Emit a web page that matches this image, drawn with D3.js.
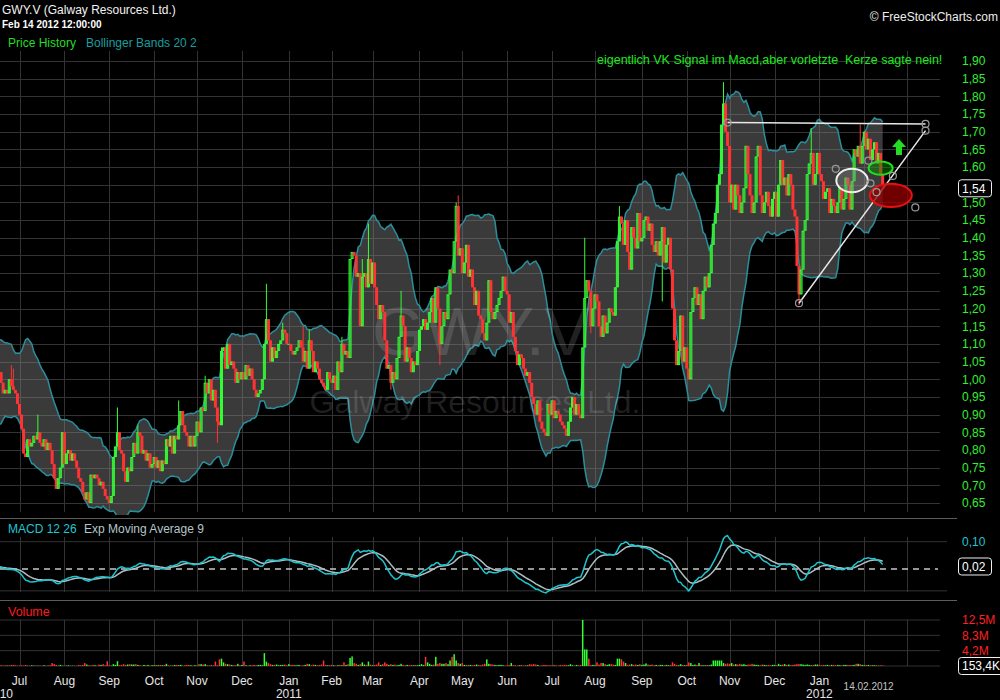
<!DOCTYPE html>
<html><head><meta charset="utf-8">
<script src="https://cdn.jsdelivr.net/npm/d3@7"></script>
<style>html,body{margin:0;padding:0;background:#000;}svg{display:block;}</style>
</head><body>
<svg id="c" width="1000" height="700"></svg>
<script>
// ================= DATA =================
const titleText = "GWY.V (Galway Resources Ltd.)";
const stampText = "Feb 14 2012 12:00:00";
const watermarkSymbol = "GWY.V";
const watermarkName = "Galway Resources Ltd.";
const noteText = "eigentlich VK Signal im Macd,aber vorletzte  Kerze sagte nein!";
const firstCloseDate = "2010-05-12";   // first daily close (warm-up for indicators, off screen)
const lastDateText = "14.02.2012";
// daily closing prices, oldest first (last = 14.02.2012)
const closes = [
0.97,1.01,1.07,1.04,1.08,1.00,0.94,0.96,0.89,0.91,
0.99,1.03,1.01,1.09,1.06,0.98,1.02,0.93,0.88,0.92,
0.97,1.05,1.03,1.08,1.02,0.99,1.02,0.99,0.96,0.97,
0.96,1.00,0.98,0.97,0.96,0.93,0.90,0.86,0.79,0.78,
0.83,0.81,0.82,0.84,0.83,0.85,0.82,0.81,0.83,0.80,
0.82,0.80,0.76,0.72,0.69,0.72,0.75,0.85,0.76,0.79,
0.80,0.77,0.79,0.77,0.75,0.72,0.71,0.68,0.66,0.68,
0.65,0.73,0.72,0.73,0.72,0.70,0.71,0.69,0.67,0.66,
0.65,0.67,0.78,0.81,0.85,0.80,0.79,0.74,0.71,0.75,
0.74,0.78,0.82,0.79,0.85,0.84,0.79,0.80,0.77,0.79,
0.75,0.76,0.78,0.75,0.77,0.74,0.77,0.76,0.83,0.81,
0.84,0.79,0.84,0.83,0.87,0.91,0.87,0.85,0.84,0.81,
0.84,0.81,0.84,0.88,0.85,0.92,0.91,0.99,0.96,1.00,
0.94,0.97,0.92,0.88,0.87,1.08,1.09,1.03,1.10,1.04,
1.05,1.03,0.99,1.02,1.00,1.02,1.00,1.04,1.01,1.03,
1.00,0.97,0.95,0.96,0.97,1.00,1.10,1.17,1.11,1.05,
1.09,1.06,1.08,1.10,1.11,1.14,1.13,1.10,1.10,1.08,
1.07,1.08,1.09,1.11,1.09,1.05,1.08,1.03,1.11,1.08,
1.02,1.05,1.03,1.00,0.99,0.98,0.97,1.02,1.00,0.99,
1.01,0.97,1.05,1.02,1.10,1.07,1.08,1.06,1.34,1.36,
1.35,1.29,1.30,1.15,1.29,1.30,1.26,1.34,1.27,1.33,
1.26,1.21,1.17,1.21,1.19,1.11,1.03,1.04,0.99,1.02,
1.00,1.06,1.12,1.18,1.15,1.05,1.09,1.06,1.02,1.05,
1.04,1.08,1.14,1.15,1.17,1.14,1.16,1.19,1.23,1.16,
1.26,1.20,1.10,1.15,1.19,1.17,1.24,1.31,1.30,1.39,
1.49,1.35,1.37,1.30,1.33,1.38,1.29,1.31,1.26,1.21,
1.25,1.18,1.17,1.13,1.11,1.16,1.28,1.19,1.17,1.19,
1.21,1.23,1.25,1.29,1.25,1.24,1.16,1.19,1.12,1.08,
1.04,1.07,1.06,1.03,1.01,1.02,0.99,0.95,0.93,0.90,
0.94,0.88,0.86,0.85,0.84,0.93,0.90,0.94,0.89,0.91,
0.90,0.88,0.87,0.86,0.84,0.88,0.92,0.95,0.90,0.93,
0.90,0.89,1.09,1.23,1.28,1.25,1.15,1.20,1.24,1.22,
1.15,1.12,1.18,1.13,1.16,1.20,1.19,1.18,1.26,1.39,
1.46,1.44,1.38,1.45,1.36,1.31,1.43,1.40,1.37,1.47,
1.39,1.40,1.45,1.46,1.42,1.44,1.38,1.36,1.39,1.35,
1.39,1.43,1.33,1.38,1.40,1.31,1.20,1.11,1.04,1.08,
1.18,1.05,1.09,1.03,1.00,1.19,1.23,1.26,1.21,1.24,
1.17,1.25,1.29,1.26,1.30,1.38,1.44,1.47,1.55,1.58,
1.72,1.78,1.70,1.66,1.50,1.55,1.48,1.55,1.52,1.47,
1.50,1.54,1.66,1.58,1.52,1.47,1.50,1.63,1.66,1.52,
1.47,1.50,1.53,1.49,1.46,1.51,1.53,1.46,1.55,1.62,
1.55,1.57,1.52,1.58,1.55,1.48,1.46,1.32,1.24,1.31,
1.42,1.45,1.58,1.61,1.64,1.55,1.58,1.64,1.58,1.56,
1.51,1.53,1.54,1.47,1.51,1.49,1.47,1.50,1.54,1.48,
1.51,1.57,1.55,1.48,1.56,1.65,1.63,1.66,1.61,1.66,
1.70,1.65,1.68,1.62,1.65,1.67,1.61,1.64,1.58,1.54
];
// notable shadows: [session number in closes, high, low]
const wicks = [
[32,1.04,null],[33,1.03,null],[45,0.90,null],[84,0.92,null],[94,0.87,null],[114,0.94,null],
[127,1.01,null],[133,null,0.82],[135,1.09,null],[157,1.27,null],[165,1.16,null],[175,1.15,null],
[178,1.14,null],[194,1.12,null],[204,1.34,null],[207,1.44,null],[218,null,0.97],[223,1.25,null],
[242,null,1.04],[250,1.50,null],[251,1.52,null],[313,1.40,null],[316,null,1.13],[330,1.49,null],
[351,null,1.22],[381,1.84,null],[418,null,1.21],[424,1.71,null],[448,1.72,null]
];
// daily volume in units of 100K shares (aligned to the last closes)
const volumes = [
3,2,1,1,2,1,3,3,2,1,
1,2,1,3,1,1,2,1,1,1, 1,1,2,1,1,2,8,5,3,1, 3,1,1,1,2,1,1,1,1,3, 2,3,8,4,2,1,3,2,1,4,
3,5,2,13,2,1,5,3,13,2, 3,5,3,4,5,4,4,5,3,2, 1,3,2,3,1,2,2,3,2,3, 2,3,6,2,1,2,3,3,2,3,
1,2,3,3,2,1,2,1,5,5, 4,5,2,1,3,1,12,2,18,20, 10,6,5,4,3,2,2,6,2,3, 12,2,1,2,2,3,2,3,3,2,
35,12,8,5,3,3,4,2,3,3, 4,2,5,3,3,2,2,3,1,2, 3,6,5,2,4,3,2,3,4,15, 3,2,2,3,2,1,2,3,2,10,
3,5,22,26,8,6,3,5,10,4, 3,12,4,2,3,4,10,3,5,10, 6,3,5,3,4,2,3,6,3,2, 3,2,3,2,3,2,3,5,3,25,
10,6,3,4,25,6,8,6,6,8, 5,15,25,32,15,8,6,8,3,2, 3,3,2,3,4,3,2,4,6,18, 6,5,4,3,2,3,3,2,1,2,
3,8,2,2,1,2,3,1,2,2, 5,4,5,4,3,1,2,3,3,1, 2,1,3,1,1,3,2,3,3,2, 5,2,1,3,2,3,125,45,45,20,
3,3,2,10,4,8,8,5,3,5, 5,4,3,20,20,18,12,8,3,4, 5,3,4,3,5,3,4,7,4,2, 4,2,3,2,3,3,2,3,2,3,
10,6,3,2,5,3,2,3,10,8, 3,4,3,8,3,2,2,3,2,4, 15,15,15,15,15,8,6,7,6,8, 4,5,4,6,4,5,3,4,4,6,
4,3,3,2,4,3,2,3,2,3, 3,2,6,3,4,5,3,4,2,3, 4,5,5,5,4,3,4,3,2,3, 4,4,3,2,3,2,3,2,3,3,
2,3,2,2,3,3,3,3,2,3, 6,6,5,3,2,3,3,2,2,2, 2,1,2,1.534
];
const priceTicks = d3.range(26).map(k => 0.65 + k*0.05);
const macdTicks = [0.10];
const macdGrid = [0.10, -0.08];
const bandPeriod = 20, bandWidth = 2;
const macdFast = 12, macdSlow = 26, macdSignal = 9;
// hand-drawn chart annotations in [date, price]
const annLines = [
  [["2011-10-31",1.726],["2012-03-14",1.722]],
  [["2011-12-19",1.215],["2012-03-14",1.703]]
];
const annEllipses = [
  {date:"2012-01-24", price:1.562, rxDays:7.7, ryPrice:0.033, kind:"white"},
  {date:"2012-02-13", price:1.597, rxDays:5.9, ryPrice:0.019, kind:"green"},
  {date:"2012-02-20", price:1.520, rxDays:10.3, ryPrice:0.033, kind:"red"}
];
const annHandles = [["2012-01-12",1.595],["2012-02-03",1.618],["2012-02-06",1.554],
  ["2012-02-09",1.529],["2012-02-21",1.575],["2012-03-07",1.486]];
const annArrow = ["2012-02-24",1.657];

// ================= SETUP =================
const FONT = "'Liberation Sans', Arial, sans-serif";
const GREEN = "#33ff33", RED = "#ff3333";
const parse = d3.utcParse("%Y-%m-%d");
const cal = d3.utcDay.range(parse("2010-04-01"), parse("2012-06-01")).filter(d => d.getUTCDay() % 6 !== 0);
const bis = d3.bisector(d => +d).left;
const idxOf = s => bis(cal, +(typeof s === "string" ? parse(s) : s));
const startK = idxOf(firstCloseDate);

const data = closes.map((c, k) => {
  const open = k ? closes[k-1] : c;
  return {k, idx: startK + k, date: cal[startK + k], open, close: c,
          high: Math.max(open, c), low: Math.min(open, c)};
});
wicks.forEach(([k, hi, lo]) => { if (hi != null) data[k].high = Math.max(data[k].high, hi); if (lo != null) data[k].low = Math.min(data[k].low, lo); });
const volOffset = closes.length - volumes.length;
volumes.forEach((v, j) => { data[volOffset + j].vol = v; });

// Bollinger
data.forEach((d, k) => {
  if (k >= bandPeriod - 1) {
    const w = closes.slice(k - bandPeriod + 1, k + 1);
    const m = d3.mean(w);
    const sd = Math.sqrt(d3.mean(w, v => (v - m) * (v - m)));
    d.mid = m; d.up = m + bandWidth * sd; d.lo = m - bandWidth * sd;
  }
});
// MACD
function ema(arr, n) { const a = 2/(n+1); let e = arr[0]; return arr.map(v => (e = a*v + (1-a)*e)); }
const eF = ema(closes, macdFast), eS = ema(closes, macdSlow);
const macd = closes.map((c, k) => eF[k] - eS[k]);
const sig = ema(macd, macdSignal);
data.forEach((d, k) => { d.macd = macd[k]; d.sig = sig[k]; });

// scales
const x = d3.scaleLinear().domain([idxOf("2010-07-01"), idxOf("2012-02-01")]).range([19.5, 864.3]);
const y = d3.scaleLinear().domain([0.65, 1.90]).range([503, 61]);
const yM = d3.scaleLinear().domain([0, 0.10]).range([569, 541.7]);
const yV = d3.scaleLinear().domain([0, d3.max(volumes)]).range([666, 620]);
const PR = 940;

const svg = d3.select("#c");
svg.append("rect").attr("width",1000).attr("height",700).attr("fill","#000");
const defs = svg.append("defs");
[["cp",0,51,PR,464],["cm",0,519,950,81],["cv",0,601,PR,67]].forEach(([id,x0,y0,w,h]) =>
  defs.append("clipPath").attr("id",id).append("rect").attr("x",x0).attr("y",y0).attr("width",w).attr("height",h));

const comma = f => v => f(v).replace(".", ",");
const fmt2 = comma(d3.format(".2f"));

// ---------- grid ----------
const grid = svg.append("g").attr("stroke","#333").attr("stroke-width",1);
grid.selectAll("line.h").data(priceTicks).join("line")
  .attr("x1",0).attr("x2",PR).attr("y1",d=>Math.round(y(d))+0.5).attr("y2",d=>Math.round(y(d))+0.5);
grid.selectAll("line.m").data(macdGrid).join("line").attr("class","m")
  .attr("x1",0).attr("x2",947).attr("y1",d=>yM(d)).attr("y2",d=>yM(d));
const volTickVals = [0,1,2,3].map(t => yV.domain()[1]*t/3);
grid.selectAll("line.v").data(volTickVals).join("line").attr("class","v")
  .attr("x1",0).attr("x2",PR).attr("y1",d=>yV(d)).attr("y2",d=>yV(d));
const months = d3.utcMonth.range(parse("2010-06-01"), parse("2012-05-01"))
  .map(m => ({m, xi: x(idxOf(m))})).filter(o => o.xi >= 0 && o.xi <= PR);
[[51,512],[537,592],[620,666]].forEach(([a,b]) =>
  grid.append("g").selectAll("line").data(months).join("line")
   .attr("x1",d=>Math.round(d.xi)+0.5).attr("x2",d=>Math.round(d.xi)+0.5).attr("y1",a).attr("y2",b));

// panel separators
svg.append("g").attr("stroke","#5c5c5c").selectAll("line").data([518.5,600.5]).join("line")
  .attr("x1",0).attr("x2",957).attr("y1",d=>d).attr("y2",d=>d);

// ---------- price panel ----------
const gp = svg.append("g").attr("clip-path","url(#cp)");
const bd = data.filter(d => d.up != null);
gp.append("path").datum(bd)
  .attr("d", d3.area().x(d=>x(d.idx)).y0(d=>y(d.lo)).y1(d=>y(d.up)))
  .attr("fill","#808080").attr("fill-opacity",0.45);
["up","lo"].forEach(key => gp.append("path").datum(bd)
  .attr("d", d3.line().x(d=>x(d.idx)).y(d=>y(d[key])))
  .attr("fill","none").attr("stroke","#2a8f9c").attr("stroke-width",1.5));

// watermark
gp.append("text").attr("x",481).attr("y",355).attr("text-anchor","middle")
  .attr("font-family",FONT).attr("font-size",68).attr("fill","#fff").attr("fill-opacity",0.13).text(watermarkSymbol);
gp.append("text").attr("x",475).attr("y",413).attr("text-anchor","middle")
  .attr("font-family",FONT).attr("font-size",32).attr("fill","#fff").attr("fill-opacity",0.13).text(watermarkName);

// candles
const vis = data.filter(d => x(d.idx) > -4 && x(d.idx) < PR + 4);
gp.append("g").selectAll("g").data(vis).join("g")
  .attr("transform", d => `translate(${x(d.idx)},0)`)
  .each(function(d){
    const g = d3.select(this), up = d.close >= d.open, col = up ? GREEN : RED;
    g.append("line").attr("x1",0).attr("x2",0).attr("y1",y(d.high)).attr("y2",y(d.low)).attr("stroke",col).attr("stroke-width",1);
    const yt = y(Math.max(d.open,d.close)), yb = y(Math.min(d.open,d.close)), h = Math.max(1, yb-yt);
    if (up && h > 3) g.append("rect").attr("x",-1).attr("y",yt+0.5).attr("width",2).attr("height",h-1)
        .attr("fill","none").attr("stroke",col).attr("stroke-width",1);
    else g.append("rect").attr("x",-1.5).attr("y",yt).attr("width",3).attr("height",h).attr("fill",col);
  });

// annotations
const ax = s => x(idxOf(s));
const ga = gp.append("g");
ga.selectAll("line").data(annLines).join("line")
  .attr("x1",d=>ax(d[0][0])).attr("y1",d=>y(d[0][1])).attr("x2",d=>ax(d[1][0])).attr("y2",d=>y(d[1][1]))
  .attr("stroke","#e8e8e8").attr("stroke-width",1.5);
const ellStyle = {white:{f:"rgba(140,140,140,0.35)",s:"#f0f0f0"}, green:{f:"rgba(0,150,0,0.45)",s:"#22dd22"}, red:{f:"rgba(150,0,0,0.75)",s:"#e81010"}};
ga.selectAll("ellipse").data(annEllipses).join("ellipse")
  .attr("cx",d=>ax(d.date)).attr("cy",d=>y(d.price))
  .attr("rx",d=>x(d.rxDays)-x(0)).attr("ry",d=>y(0)-y(d.ryPrice))
  .attr("fill",d=>ellStyle[d.kind].f).attr("stroke",d=>ellStyle[d.kind].s).attr("stroke-width",2);
const handlePts = annHandles.concat(annLines.flat());
ga.selectAll("circle").data(handlePts).join("circle")
  .attr("cx",d=>ax(d[0])).attr("cy",d=>y(d[1])).attr("r",3.5)
  .attr("fill","none").attr("stroke","#9a9a9a").attr("stroke-width",1.2);
ga.append("path").attr("transform",`translate(${ax(annArrow[0])},${y(annArrow[1])})`)
  .attr("d","M0,-8L7,0L3,0L3,8L-3,8L-3,0L-7,0Z").attr("fill","#22dd22");

// ---------- MACD panel ----------
const gm = svg.append("g").attr("clip-path","url(#cm)");
gm.append("line").attr("x1",0).attr("x2",938).attr("y1",yM(0)).attr("y2",yM(0))
  .attr("stroke","#c8c8c8").attr("stroke-width",1.3).attr("stroke-dasharray","6,5");
const md = data.filter(d => x(d.idx) > -10);
gm.append("path").datum(md).attr("d",d3.line().x(d=>x(d.idx)).y(d=>yM(d.sig)))
  .attr("fill","none").attr("stroke","#aebfc3").attr("stroke-width",1.5);
gm.append("path").datum(md).attr("d",d3.line().x(d=>x(d.idx)).y(d=>yM(d.macd)))
  .attr("fill","none").attr("stroke","#1fc6d0").attr("stroke-width",1.5);

// ---------- Volume panel ----------
const gv = svg.append("g").attr("clip-path","url(#cv)");
gv.selectAll("rect").data(data.filter(d => d.vol != null)).join("rect")
  .attr("x",d=>x(d.idx)-0.75).attr("width",1.5)
  .attr("y",d=>yV(d.vol)).attr("height",d=>yV(0)-yV(d.vol))
  .attr("fill",d=>d.close>=d.open?GREEN:RED);

// ---------- texts ----------
const T = (xx, yy, s, size, col, opts={}) => svg.append("text").attr("x",xx).attr("y",yy)
  .attr("font-family",FONT).attr("font-size",size).attr("fill",col).style("white-space","pre")
  .attr("font-weight",opts.bold?"bold":null).attr("text-anchor",opts.anchor||"start").text(s);
T(2,13.5,titleText,12,"#f2f2f2");
T(2,28,stampText,10,"#ffffff",{bold:true});
T(8,47,"Price History",12,"#22dd22");
T(86,47,"Bollinger Bands 20 2",12,"#1a9e9e");
T(998,20.5,"© FreeStockCharts.com",12,"#eeeeee",{anchor:"end"});
T(597,63.5,noteText,12.5,"#1ee81e");
T(8,533,"MACD 12 26",12,"#1fc6d0");
T(84,533,"Exp Moving Average 9",12,"#b4c6ca");
T(8,615.5,"Volume",12.5,"#ff1a1a");

// price axis labels
const last = data[data.length-1];
svg.append("g").selectAll("text").data(priceTicks.filter(v => Math.abs(y(v)-y(last.close)) > 10)).join("text")
  .attr("x",962).attr("y",d=>y(d)+4.3).attr("font-family",FONT).attr("font-size",12).attr("fill","#33ee33").text(fmt2);
const boxLabel = (yy, s) => {
  const g = svg.append("g");
  g.append("rect").attr("x",958.5).attr("y",yy-8.5).attr("width",s.length>5?50:33).attr("height",17).attr("rx",3)
    .attr("fill","#000").attr("stroke","#f0f0f0").attr("stroke-width",1);
  g.append("text").attr("x",962).attr("y",yy+4.3).attr("font-family",FONT).attr("font-size",12).attr("fill","#fff").text(s);
};
boxLabel(y(last.close), fmt2(last.close));
svg.append("g").selectAll("text").data(macdTicks).join("text")
  .attr("x",962).attr("y",d=>yM(d)+4.3).attr("font-family",FONT).attr("font-size",12).attr("fill","#1fc6d0").text(fmt2);
boxLabel(yM(last.macd)+2, fmt2(last.macd));
const fmtM = comma(d3.format(".1f"));
svg.append("g").selectAll("text").data(volTickVals.slice(1)).join("text")
  .attr("x",962).attr("y",d=>yV(d)+4.3).attr("font-family",FONT).attr("font-size",12).attr("fill","#ff2020")
  .text(d => fmtM(d/10) + "M");
boxLabel(yV(0), fmtM(last.vol*100) + "K");

// time axis labels
const mf = d3.utcFormat("%b"), yf = d3.utcFormat("%Y");
const lastMonth = d3.utcMonth.floor(last.date);
const labMonths = months.filter(o => o.m < lastMonth);
svg.append("g").selectAll("text").data(labMonths).join("text")
  .attr("x",d=>d.xi).attr("y",685).attr("text-anchor","middle").attr("font-family",FONT).attr("font-size",12)
  .attr("fill","#e6e6e6").text(d=>mf(d.m));
svg.append("g").selectAll("text").data(labMonths.filter(o => o.m.getUTCMonth() === 0)).join("text")
  .attr("x",d=>d.xi).attr("y",698).attr("text-anchor","middle").attr("font-family",FONT).attr("font-size",12)
  .attr("fill","#e6e6e6").text(d=>yf(d.m));
T(13,698,yf(data[0].date),12,"#e6e6e6",{anchor:"end"});
T(x(last.idx)+11,690,lastDateText,10,"#c4c4c4",{anchor:"end"});
</script>
</body></html>
